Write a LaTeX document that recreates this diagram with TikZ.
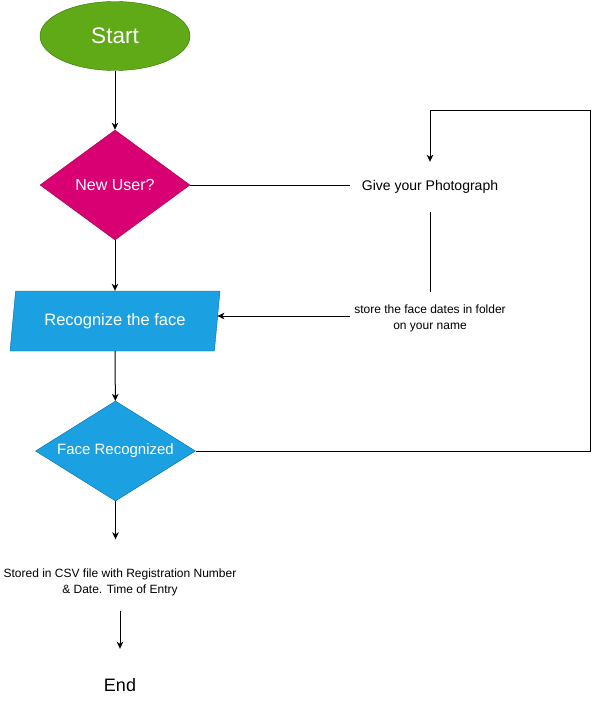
\documentclass[tikz,border=0pt]{standalone}
\usepackage{fontspec}
\setmainfont{Liberation Sans}
\usetikzlibrary{shapes.geometric,arrows.meta}

\definecolor{startgreen}{HTML}{60A917}
\definecolor{startline}{HTML}{2D7600}
\definecolor{usermag}{HTML}{D80073}
\definecolor{userline}{HTML}{A50040}
\definecolor{faceblue}{HTML}{1BA1E2}
\definecolor{faceline}{HTML}{006EAF}

\tikzset{
  startnode/.style={ellipse, fill=startgreen, draw=startline, text=white, minimum width=150pt, minimum height=69pt, inner sep=0pt, font=\fontsize{22.5}{26}\selectfont},
  decision/.style={diamond, text=white, inner sep=0pt},
  iobox/.style={trapezium, trapezium left angle=70, trapezium right angle=110, trapezium stretches body, fill=faceblue, draw=faceline, text=white, minimum width=210pt, minimum height=60pt, inner sep=0pt, font=\fontsize{16.5}{20}\selectfont},
  plain/.style={align=center, inner sep=0pt, font=\fontsize{12}{16}\selectfont},
  flow/.style={line width=1pt, -{Stealth[length=7pt,width=6.5pt,inset=2pt]}},
  link/.style={line width=1pt}
}

\begin{document}
\begin{tikzpicture}[x=1pt, y=-1pt]
    \useasboundingbox (0,0) rectangle (592,720);
\node[startnode] (start) at (115, 36) {Start} ; % Start
\node[decision, fill=usermag, draw=userline, aspect=1.36, minimum width=150pt, minimum height=110pt, font=\fontsize{16}{19}\selectfont] (newuser) at (115, 185) {New User?} ; % New User
\node[plain, minimum width=160pt, minimum height=50pt, font=\fontsize{14}{17}\selectfont] (photo) at (430, 187) {Give your Photograph} ; % Photograph
\node[plain, minimum width=160pt, minimum height=52pt] (store) at (430, 318) {store the face dates in folder\\on your name} ; % Store
\node[iobox] (recog) at (115, 321) {Recognize the face} ; % Recognize
\node[decision, fill=faceblue, draw=faceline, aspect=1.6, minimum width=160pt, minimum height=100pt, font=\fontsize{15}{18}\selectfont] (face) at (115.5, 451) {Face Recognized} ; % Face Recognized
\node[plain, minimum height=71pt] (csv) at (120, 582) {Stored in CSV file with Registration Number\\\& Date. Time of Entry} ; % CSV
\node[plain, minimum height=70pt, font=\fontsize{18}{21}\selectfont] (end) at (120, 685) {End} ; % End
\coordinate (loop) at (590, 110) ; % loop corner
\draw[flow] (start) -- (newuser) ; % start to user
\draw[link] (newuser.east) -- (photo.west |- newuser.east) ; % user to photo
\draw[link] (photo.south) -- (store.north) ; % photo to store
\draw[flow] ([yshift=2pt]store.west) -- ([yshift=2pt]store.west -| recog.east) ; % store to recog
\draw[flow] (newuser) -- (recog) ; % user to recog
\draw[flow] (recog) -- (face) ; % recog to face
\draw[flow] (face.east) -| (loop) -| (photo.north) ; % loop back
\draw[flow] (face.south) -- ([yshift=7pt]face.south |- csv.north) ; % face to csv
\draw[flow] ([yshift=7pt]csv.south) -- ([yshift=1pt]end.north) ; % csv to end
\end{tikzpicture}
\end{document}
